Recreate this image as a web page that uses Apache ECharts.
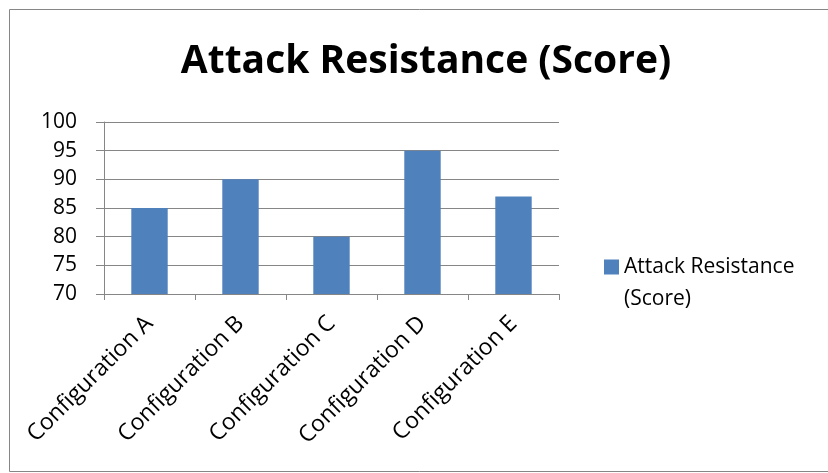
<!DOCTYPE html>
<html>
<head>
<meta charset="utf-8">
<script src="https://cdn.jsdelivr.net/npm/echarts@6/dist/echarts.min.js"></script>
<style>
  html, body { margin: 0; padding: 0; background: #fff; }
  #chart { width: 828px; height: 473px; }
</style>
</head>
<body>
<div id="chart"></div>
<script>
// Attack resistance score per configuration
const categories = ['Configuration A', 'Configuration B', 'Configuration C', 'Configuration D', 'Configuration E'];
const scores = [85, 90, 80, 95, 87];
const seriesName = 'Attack Resistance (Score)';
const yMin = 70, yMax = 100, yStep = 5;

const FONT = '"Open Sans"';
const AXIS_GRAY = '#868686';
const LEGEND_LINE = 32;

// Legend marker: a 15px square at the top of a taller, otherwise empty box,
// so the square sits beside the first line of the wrapped legend text.
const legendIcon = 'path://M0,0h15v15h-15z M0,' + (LEGEND_LINE + 15) + 'h15';

const chart = echarts.init(document.getElementById('chart'), null, { renderer: 'canvas' });

chart.setOption({
  backgroundColor: '#ffffff',
  animation: false,
  title: {
    text: seriesName,
    left: 421,
    textAlign: 'center',
    top: 37,
    textStyle: { fontFamily: FONT, fontWeight: 'bold', fontSize: 39, color: '#000' }
  },
  legend: {
    data: [seriesName],
    orient: 'vertical',
    left: 599,
    top: 246,
    itemWidth: 15,
    itemHeight: LEGEND_LINE + 15,
    itemGap: 0,
    icon: legendIcon,
    formatter: name => name.replace(' (', '\n('),
    textStyle: { fontFamily: FONT, fontSize: 21, color: '#000', lineHeight: LEGEND_LINE }
  },
  grid: { left: 104, right: 269, top: 122, bottom: 179, containLabel: false },
  xAxis: {
    type: 'category',
    data: categories,
    axisLine: { lineStyle: { color: AXIS_GRAY, width: 1 } },
    axisTick: { show: true, length: 6, alignWithLabel: false, lineStyle: { color: AXIS_GRAY } },
    axisLabel: { rotate: 45, margin: 26, fontFamily: FONT, fontSize: 23, color: '#000', interval: 0 }
  },
  yAxis: {
    type: 'value',
    min: yMin,
    max: yMax,
    interval: yStep,
    axisLine: { show: true, lineStyle: { color: AXIS_GRAY, width: 1 } },
    axisTick: { show: true, length: 8, lineStyle: { color: AXIS_GRAY } },
    splitLine: { show: true, lineStyle: { color: AXIS_GRAY, width: 1 } },
    axisLabel: { margin: 27, fontFamily: FONT, fontSize: 21, color: '#000' }
  },
  series: [{
    name: seriesName,
    type: 'bar',
    data: scores,
    barCategoryGap: '60%',
    itemStyle: { color: '#4F81BD' }
  }],
  graphic: [{
    type: 'rect',
    shape: { x: 9.5, y: 9.5, width: 830, height: 462 },
    style: { fill: 'none', stroke: '#868686', lineWidth: 1 },
    silent: true
  }]
});
</script>
</body>
</html>
